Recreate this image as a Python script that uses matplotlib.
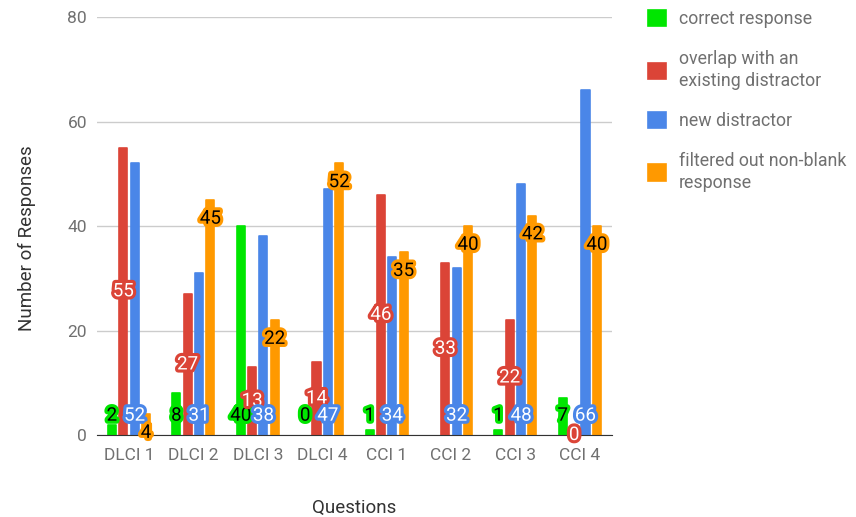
import numpy as np
import matplotlib.pyplot as plt
import matplotlib.patheffects as pe

plt.rcParams['font.family'] = ['Roboto', 'DejaVu Sans']

questions = ['DLCI 1', 'DLCI 2', 'DLCI 3', 'DLCI 4', 'CCI 1', 'CCI 2', 'CCI 3', 'CCI 4']
correct = [2, 8, 40, 0, 1, np.nan, 1, 7]
overlap = [55, 27, 13, 14, 46, 33, 22, 0]
new_distr = [52, 31, 38, 47, 34, 32, 48, 66]
filtered = [4, 45, 22, 52, 35, 40, 42, 40]

series = [
    ('correct response', correct, '#00e600', 'black', 'base'),
    ('overlap with an\nexisting distractor', overlap, '#db4437', 'white', 'center'),
    ('new distractor', new_distr, '#4a86e8', 'white', 'base'),
    ('filtered out non-blank\nresponse', filtered, '#ff9900', 'black', 'end'),
]

fig = plt.figure(figsize=(8.56, 5.17), dpi=100)
ax = fig.add_axes([0.113, 0.1586, 0.602, 0.8085])

x = np.arange(len(questions))
step = 0.176
width = 0.125
handles = []
for i, (name, vals, col, tcol, where) in enumerate(series):
    xs = x + (i - 1.5) * step
    vals = np.array(vals, dtype=float)
    heights = np.nan_to_num(vals)
    # no outline on empty bars, otherwise a zero shows up as a thin line
    lws = [1.2 if h > 0 else 0 for h in heights]
    b = ax.bar(xs, heights, width, color=col, edgecolor=col,
               linewidth=lws, joinstyle='round', zorder=3, label=name)
    handles.append(b)
    for xi, v in zip(xs, vals):
        if np.isnan(v):
            continue
        if where == 'base':
            y = 3.7
        elif where == 'center':
            y = v / 2
        else:
            y = v - 3.6
        ax.text(xi, y, '%d' % v, ha='center', va='center', fontsize=13.5,
                color=tcol, zorder=5,
                path_effects=[pe.withStroke(linewidth=4.5, foreground=col)])

ax.set_xlim(-0.5, len(questions) - 0.5)
ax.set_ylim(0, 80)
ax.set_yticks([0, 20, 40, 60, 80])
ax.set_xticks(x)
ax.set_xticklabels(questions)
ax.grid(axis='y', color='#cccccc', linewidth=1, zorder=0)
ax.set_axisbelow(True)
for s in ['top', 'right', 'left']:
    ax.spines[s].set_visible(False)
ax.spines['bottom'].set_color('#333333')
ax.spines['bottom'].set_zorder(4)
ax.tick_params(length=0, colors='#707070', labelsize=12.5)
ax.tick_params(axis='y', pad=7)
ax.tick_params(axis='x', pad=9)

ax.set_xlabel('Questions', fontsize=13.5, color='#333333', labelpad=26)
ax.set_ylabel('Number of Responses', fontsize=13.5, color='#333333', labelpad=27)
ax.yaxis.set_label_coords(-0.117, 0.47)

leg = fig.legend(handles=handles, loc='upper left', bbox_to_anchor=(0.738, 1.012),
                 frameon=False, fontsize=12.8, handlelength=1.05, handleheight=1.05,
                 handletextpad=0.7, labelspacing=1.22, labelcolor='#707070')
for t in leg.get_texts():
    t.set_linespacing(1.3)

fig.savefig('out.png', dpi=100)
